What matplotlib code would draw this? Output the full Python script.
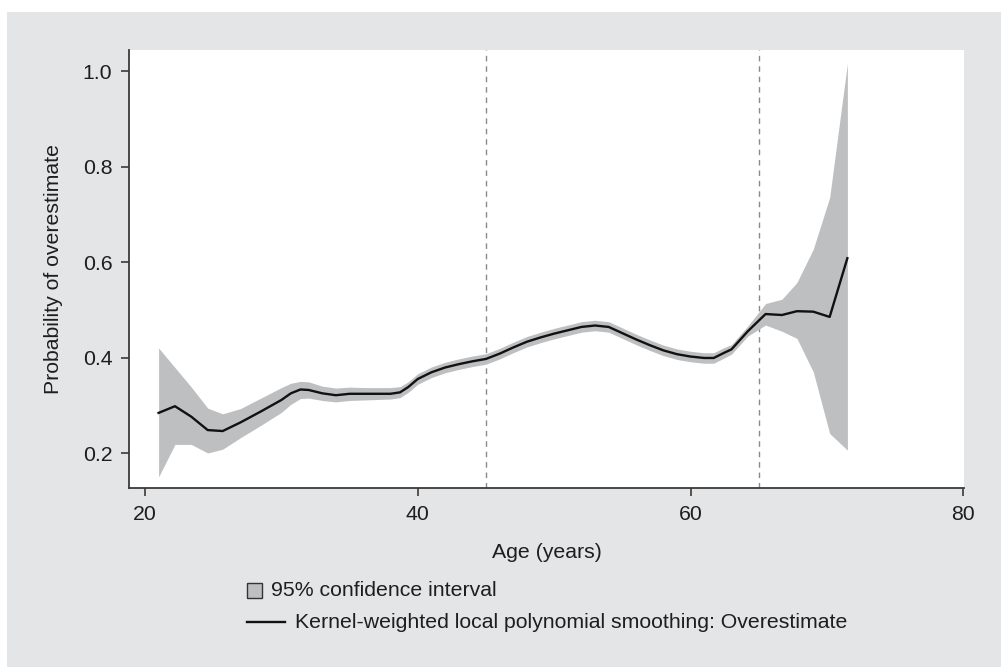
import matplotlib
matplotlib.use("Agg")
import matplotlib.pyplot as plt
from matplotlib.patches import Rectangle
from matplotlib.lines import Line2D
import numpy as np

plt.rcParams["font.family"] = ["Liberation Sans", "DejaVu Sans"]

# Age grid (years)
age = [21, 22.2, 23.4, 24.6, 25.7, 27, 28.5, 30, 30.7, 31.4, 32, 33, 34, 35, 36, 37, 38,
       38.7, 39.3, 40, 41, 42, 43, 44, 45, 46, 47, 48, 49, 50, 51, 52, 53, 54, 55, 56,
       57, 58, 59, 60, 61, 61.7, 62.4, 63, 64.2, 65.5, 66.7, 67.8, 69.0, 70.2, 71.5]

# Smoothed probability of overestimate
prob = [0.284, 0.298, 0.276, 0.248, 0.246, 0.264, 0.287, 0.311, 0.325, 0.333, 0.332,
        0.325, 0.321, 0.324, 0.324, 0.324, 0.324, 0.327, 0.338, 0.355, 0.369, 0.379,
        0.386, 0.392, 0.397, 0.408, 0.421, 0.433, 0.442, 0.450, 0.457, 0.464,
        0.467, 0.464, 0.451, 0.438, 0.426, 0.415, 0.407, 0.402, 0.399, 0.399,
        0.409, 0.417, 0.455, 0.491, 0.489, 0.497, 0.496, 0.485, 0.608]

# 95% confidence bounds
ci_low = [0.150, 0.218, 0.218, 0.200, 0.208, 0.232, 0.258, 0.285, 0.302, 0.314, 0.315,
          0.310, 0.307, 0.310, 0.311, 0.312, 0.313, 0.316, 0.327, 0.344, 0.358, 0.368,
          0.375, 0.381, 0.386, 0.397, 0.410, 0.422, 0.431, 0.439, 0.446, 0.453,
          0.456, 0.453, 0.440, 0.427, 0.415, 0.404, 0.396, 0.391, 0.388, 0.388,
          0.398, 0.407, 0.445, 0.468, 0.455, 0.440, 0.370, 0.241, 0.206]
ci_high = [0.420, 0.379, 0.338, 0.294, 0.282, 0.293, 0.315, 0.337, 0.346, 0.350, 0.349,
           0.340, 0.336, 0.338, 0.337, 0.337, 0.337, 0.339, 0.349, 0.366, 0.380, 0.390,
           0.397, 0.403, 0.408, 0.419, 0.432, 0.444, 0.453, 0.461, 0.468, 0.475,
           0.478, 0.475, 0.462, 0.449, 0.437, 0.426, 0.418, 0.413, 0.410, 0.410,
           0.420, 0.427, 0.466, 0.513, 0.522, 0.557, 0.627, 0.735, 1.016]

cutoffs = [45, 65]
xticks = [20, 40, 60, 80]
yticks = [0.2, 0.4, 0.6, 0.8, 1.0]

W, H = 1001, 667
FS = 15.3
fig = plt.figure(figsize=(W / 100, H / 100), dpi=100, facecolor="white")

# grey panel behind the plot
panel_color = "#e4e5e7"
fig.add_artist(Rectangle((7 / W, 0), 1 - 7 / W, 1 - 12 / H, transform=fig.transFigure,
                         facecolor=panel_color, edgecolor="none", zorder=0))

ax = fig.add_axes([129 / W, 1 - 488 / H, (964 - 129) / W, (488 - 50) / H])
ax.set_facecolor("white")

ax.fill_between(age, ci_low, ci_high, color="#bebfc1", linewidth=0, zorder=2)
ax.plot(age, prob, color="#111111", linewidth=1.7, zorder=3)
for c in cutoffs:
    ax.axvline(c, color="#8a8a8a", linewidth=1.0, linestyle=(0, (4, 3.5)), zorder=1)

ax.set_xlim(18.83, 80.05)
ax.set_ylim(0.1267, 1.044)
ax.set_xticks(xticks)
ax.set_xticklabels([str(t) for t in xticks])
ax.set_yticks(yticks)
ax.set_yticklabels([f"{t:.1f}" for t in yticks])

for s in ["top", "right"]:
    ax.spines[s].set_visible(False)
for s in ["left", "bottom"]:
    ax.spines[s].set_color("#3a3a3a")
    ax.spines[s].set_linewidth(1.3)
ax.tick_params(axis="both", direction="out", length=6, width=1.2, color="#3a3a3a",
               labelsize=FS, labelcolor="#1e1e1e", pad=6)

ax.set_xlabel("Age (years)", fontsize=FS, color="#1e1e1e", labelpad=14)
ax.set_ylabel("Probability of overestimate", fontsize=FS, color="#1e1e1e", labelpad=14)

# legend drawn below the axes
fig.add_artist(Rectangle((247 / W, 1 - 598 / H), 15 / W, 15 / H, transform=fig.transFigure,
                         facecolor="#bebfc1", edgecolor="#333333", linewidth=1.0, zorder=3))
fig.text(271 / W, 1 - 590.5 / H, "95% confidence interval", fontsize=FS,
         color="#1e1e1e", va="center", ha="left")
fig.add_artist(Line2D([247 / W, 285 / W], [1 - 622 / H, 1 - 622 / H],
                      transform=fig.transFigure, color="#111111", linewidth=1.7))
fig.text(295 / W, 1 - 622 / H, "Kernel-weighted local polynomial smoothing: Overestimate",
         fontsize=FS, color="#1e1e1e", va="center", ha="left")

fig.savefig("out.png", dpi=100, facecolor=fig.get_facecolor())
